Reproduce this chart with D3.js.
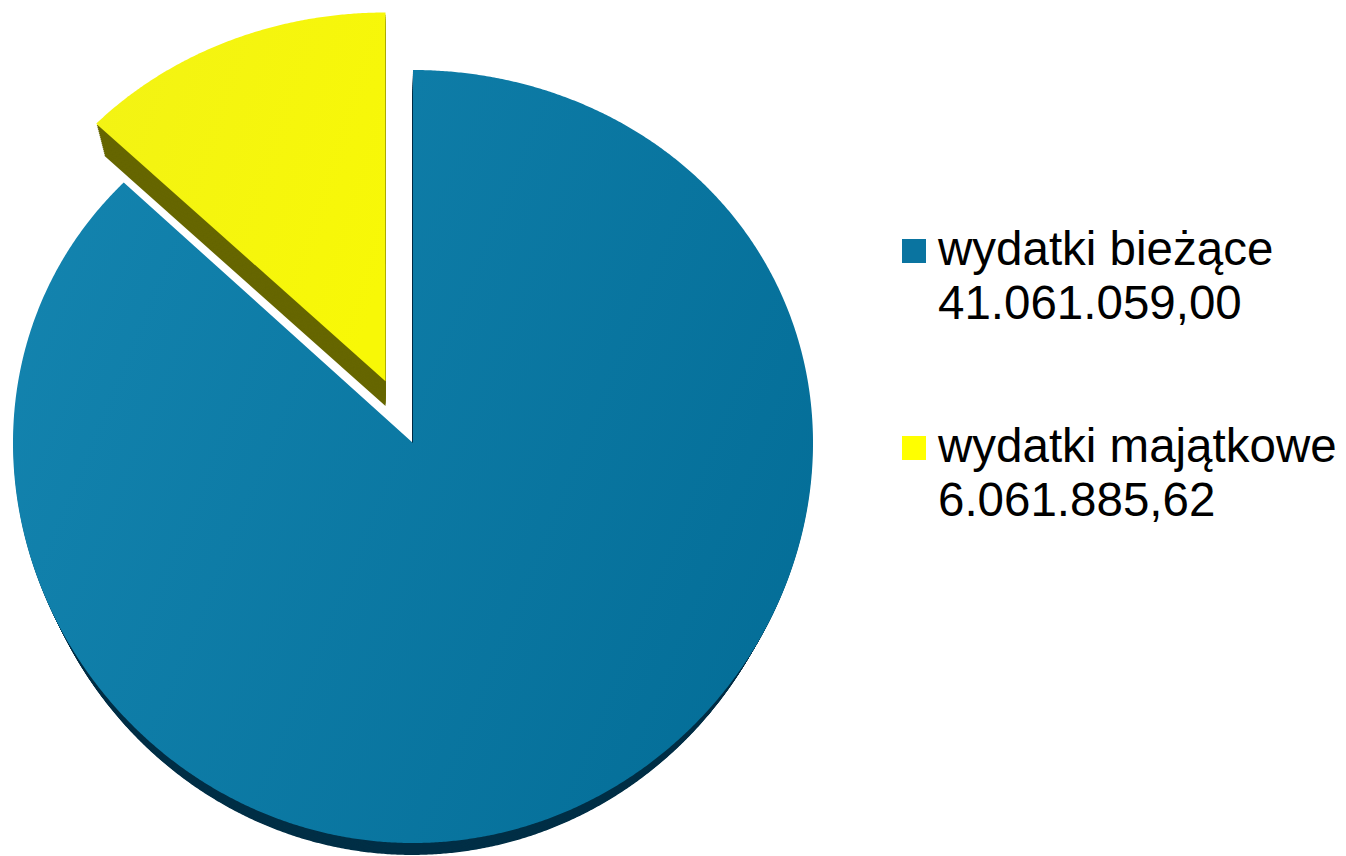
<!DOCTYPE html>
<html>
<head>
<meta charset="utf-8">
<script src="https://cdn.jsdelivr.net/npm/d3@7"></script>
<style>
  body { margin: 0; background: #fff; }
  svg { display: block; font-family: "Liberation Sans", Arial, sans-serif; }
</style>
</head>
<body>
<div id="visualization"></div>
<script>
// chart data
const categories = ['wydatki bieżące', 'wydatki majątkowe'];
const values = [41061059.00, 6061885.62];
const colors = ['#0b77a2', '#f6f60c'];
const sideColors = ['#002f46', '#666600'];
const exploded = [0, 0.175];

const width = 1346;
const height = 856;

const svg = d3.select('#visualization')
    .append('svg')
    .attr('width', width)
    .attr('height', height);

// tilted disk: unit coordinates -> screen
const cx = 413, cy = 443, rx = 400, ay = 386.5, by = 13.5;
const xScale = d3.scaleLinear().domain([-1, 1]).range([cx - rx, cx + rx]);
const project = (ux, uy) => [xScale(ux), cy + ay * uy + by * uy * uy];

// extrusion goes toward a vanishing point below the pie
const vp = [386, 1270];
const depth = 0.028;
const sink = (p, k) => [p[0] + k * (vp[0] - p[0]), p[1] + k * (vp[1] - p[1])];

const pie = d3.pie().sort(null).startAngle(0).endAngle(2 * Math.PI);
const arcs = pie(values);

const line = d3.line().curve(d3.curveLinearClosed);

function slicePoints(a, i) {
    const mid = (a.startAngle + a.endAngle) / 2;
    const e = exploded[i];
    const ox = e * Math.sin(mid), oy = -e * Math.cos(mid);
    const base = project(ox, oy);
    const step = 0.005;
    const angles = d3.range(a.startAngle, a.endAngle, step).concat([a.endAngle]);
    const pts = angles.map(t => project(ox + Math.sin(t), oy - Math.cos(t)));
    return [base].concat(pts);
}

const defs = svg.append('defs');
const gradStops = [
    ['#1383ae', '#046e98'],
    ['#f3f314', '#f8f806']
];
gradStops.forEach((s, i) => {
    const g = defs.append('linearGradient')
        .attr('id', 'grad' + i)
        .attr('x1', '0%').attr('y1', '30%')
        .attr('x2', '100%').attr('y2', '70%');
    g.append('stop').attr('offset', '0%').attr('stop-color', s[0]);
    g.append('stop').attr('offset', '100%').attr('stop-color', s[1]);
});

const pieG = svg.append('g');
arcs.forEach((a, i) => {
    const pts = slicePoints(a, i);
    const g = pieG.append('g');
    // side walls: stacked dark copies
    d3.range(16, 0, -1).forEach(n => {
        const k = depth * n / 16;
        g.append('path')
            .attr('d', line(pts.map(p => sink(p, k))))
            .attr('fill', sideColors[i]);
    });
    g.append('path')
        .attr('d', line(pts))
        .attr('fill', 'url(#grad' + i + ')');
});

// legend
const fmt = d3.formatLocale({ decimal: ',', thousands: '.', grouping: [3], currency: ['', ''] }).format(',.2f');
const legendColors = ['#0a74a0', '#ffff00'];
const legend = svg.append('g').attr('transform', 'translate(902,239)');
const item = legend.selectAll('g')
    .data(categories)
    .enter()
    .append('g')
    .attr('transform', (d, i) => `translate(0,${i * 197})`);

item.append('rect')
    .attr('width', 24)
    .attr('height', 24)
    .attr('fill', (d, i) => legendColors[i]);

item.append('text')
    .attr('x', 36)
    .attr('y', 26)
    .attr('font-size', 47.5)
    .attr('fill', '#000')
    .text(d => d);

item.append('text')
    .attr('x', 36)
    .attr('y', 80)
    .attr('font-size', 47.5)
    .attr('fill', '#000')
    .text((d, i) => fmt(values[i]));
</script>
</body>
</html>
